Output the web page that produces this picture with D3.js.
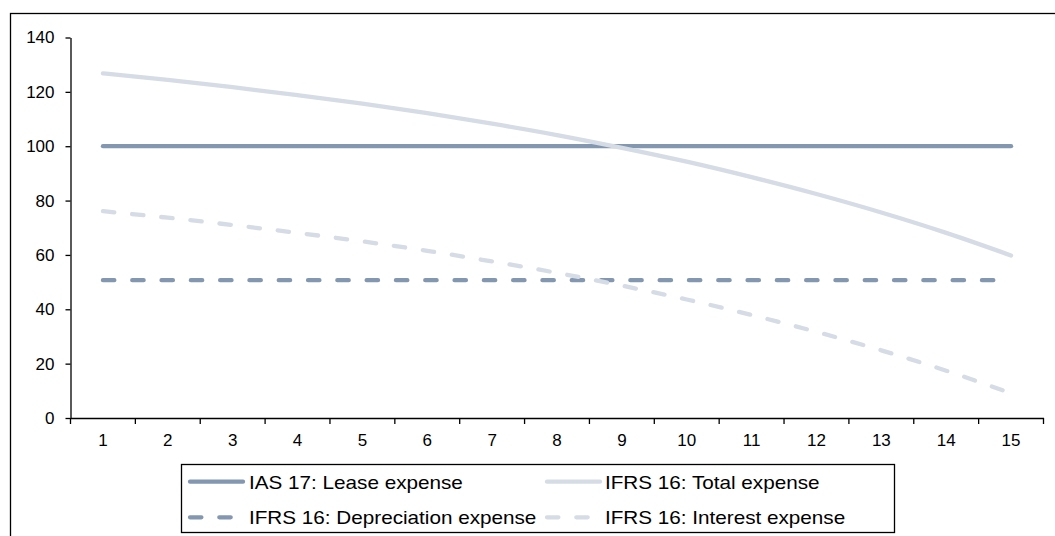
<!DOCTYPE html>
<html>
<head>
<meta charset="utf-8">
<script src="https://cdn.jsdelivr.net/npm/d3@7/dist/d3.min.js"></script>
<style>
  html, body { margin: 0; padding: 0; background: #fff; }
  svg { display: block; font-family: "Liberation Sans", Arial, sans-serif; }
</style>
</head>
<body>
<svg id="chart" width="1055" height="536"></svg>
<script>
// Lease cost profile over a 15-year term
const years = [1, 2, 3, 4, 5, 6, 7, 8, 9, 10, 11, 12, 13, 14, 15];
const ias17Lease = [100, 100, 100, 100, 100, 100, 100, 100, 100, 100, 100, 100, 100, 100, 100];
const ifrs16Total = [126.8, 124.4, 121.7, 118.8, 115.7, 112.2, 108.3, 104.1, 99.4, 94.3, 88.6, 82.4, 75.6, 68.1, 59.8];
const ifrs16Depreciation = [50.7, 50.7, 50.7, 50.7, 50.7, 50.7, 50.7, 50.7, 50.7, 50.7, 50.7, 50.7, 50.7, 50.7, 50.7];
const ifrs16Interest = [76.1, 73.7, 71.0, 68.1, 65.0, 61.5, 57.6, 53.4, 48.7, 43.6, 37.9, 31.7, 24.9, 17.4, 9.1];
const yTicks = [0, 20, 40, 60, 80, 100, 120, 140];

const dark = "#8497b0";
const light = "#d6dce5";
const dash = "11.4,17.9";

const series = [
  { name: "IAS 17: Lease expense", values: ias17Lease, color: dark, dashed: false },
  { name: "IFRS 16: Total expense", values: ifrs16Total, color: light, dashed: false },
  { name: "IFRS 16: Depreciation expense", values: ifrs16Depreciation, color: dark, dashed: true },
  { name: "IFRS 16: Interest expense", values: ifrs16Interest, color: light, dashed: true }
];

const svg = d3.select("#chart");

// outer chart frame (runs off the right and bottom edges)
svg.append("rect")
  .attr("x", 10.5).attr("y", 13.5)
  .attr("width", 1100).attr("height", 600)
  .attr("fill", "none").attr("stroke", "#000").attr("stroke-width", 1.3);

const x = d3.scaleBand().domain(years).range([70.5, 1043.5]).padding(0);
const y = d3.scaleLinear().domain([0, 140]).range([418, 37.5]);
const cx = d => x(d) + x.bandwidth() / 2;

// y axis
const yAxis = svg.append("g")
  .attr("transform", "translate(70.5,0)")
  .call(d3.axisLeft(y).tickValues(yTicks).tickSize(5).tickSizeOuter(0).tickPadding(11));
yAxis.selectAll("text").attr("font-size", 17).attr("fill", "#000")
  .attr("font-family", "'Liberation Sans', Arial, sans-serif");
yAxis.selectAll("line, path").attr("stroke", "#000").attr("stroke-width", 1.3);

// x axis: labels centred in each category, tick marks on category boundaries
const xAxis = svg.append("g")
  .attr("transform", "translate(0,418)")
  .call(d3.axisBottom(x).tickSize(0).tickSizeOuter(0).tickPadding(16.3));
xAxis.selectAll("text").attr("font-size", 17).attr("fill", "#000")
  .attr("font-family", "'Liberation Sans', Arial, sans-serif");
xAxis.select("path.domain").attr("stroke", "#000").attr("stroke-width", 1.3);
const bounds = years.map(d => x(d)).concat([x(years[years.length - 1]) + x.bandwidth()]);
xAxis.selectAll("line.bound")
  .data(bounds).enter().append("line")
  .attr("class", "bound")
  .attr("x1", d => d).attr("x2", d => d)
  .attr("y1", 0).attr("y2", 6)
  .attr("stroke", "#000").attr("stroke-width", 1.3);

// series lines
const line = d3.line()
  .x((v, i) => cx(years[i]))
  .y(v => y(v))
  .curve(d3.curveMonotoneX);

const drawOrder = [series[0], series[2], series[3], series[1]];
svg.append("g").selectAll("path")
  .data(drawOrder).enter().append("path")
  .attr("d", s => line(s.values))
  .attr("fill", "none")
  .attr("stroke", s => s.color)
  .attr("stroke-width", 4.3)
  .attr("stroke-linecap", "round")
  .attr("stroke-linejoin", "round")
  .attr("stroke-dasharray", s => s.dashed ? dash : null);

// legend
const legend = svg.append("g");
legend.append("rect")
  .attr("x", 181.5).attr("y", 464.5)
  .attr("width", 713).attr("height", 68)
  .attr("fill", "#fff").attr("stroke", "#000").attr("stroke-width", 1.3);

const cols = [{ lx: 190, tx: 249 }, { lx: 547, tx: 605 }];
const rows = [481.7, 517.3];
const items = legend.selectAll("g.item")
  .data(series).enter().append("g")
  .attr("class", "item")
  .attr("transform", (s, i) => `translate(${cols[i % 2].lx},${rows[Math.floor(i / 2)]})`);

items.append("line")
  .attr("x1", 0).attr("x2", 53)
  .attr("y1", 0).attr("y2", 0)
  .attr("stroke", s => s.color)
  .attr("stroke-width", 4.3)
  .attr("stroke-linecap", "round")
  .attr("stroke-dasharray", s => s.dashed ? dash : null);

items.append("text")
  .attr("transform", (s, i) => `translate(${cols[i % 2].tx - cols[i % 2].lx},6.8) scale(1.15,1)`)
  .attr("font-size", 18)
  .attr("fill", "#000")
  .text(s => s.name);
</script>
</body>
</html>
